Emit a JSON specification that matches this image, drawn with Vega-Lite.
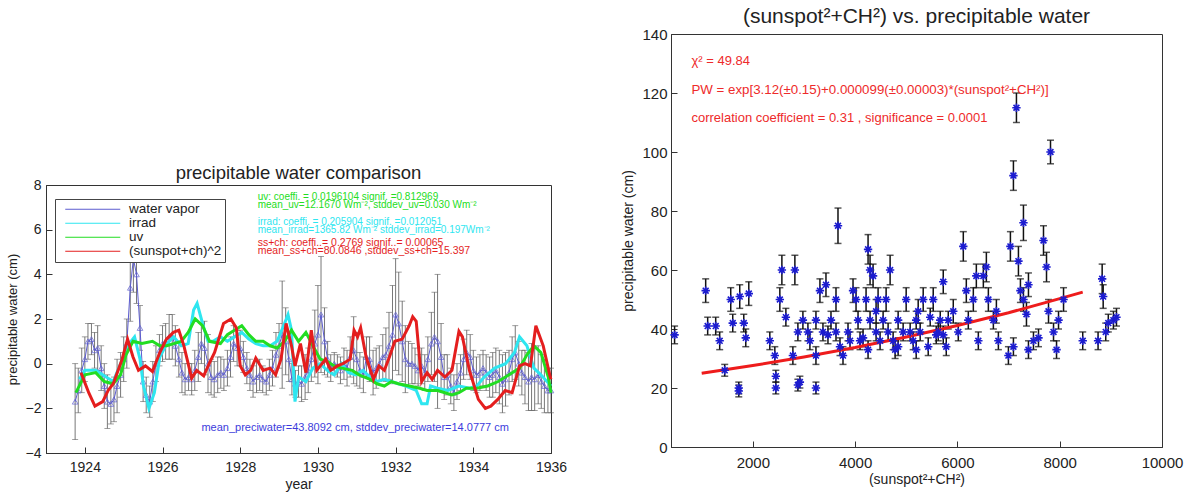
{
"$schema": "https://vega.github.io/schema/vega-lite/v6.json",
"padding": {"left": 5, "top": 5, "right": 0, "bottom": 0},
"background": "white",
"config": {
 "font": "Liberation Sans",
 "view": {"stroke": "#333", "strokeWidth": 1},
 "axis": {"domainColor": "#333", "tickColor": "#333", "labelColor": "#222", "titleColor": "#222", "grid": false, "titleFontWeight": "normal", "labelFont": "Liberation Sans", "titleFont": "Liberation Sans"},
 "title": {"fontWeight": "normal", "font": "Liberation Sans", "color": "#222"}
},
"resolve": {"scale": {"color": "independent"}, "legend": {"color": "independent"}},
"datasets": {
 "lines": [
  {"series":"water vapor","year":1923.75,"v":-1.7,"err":1.7},{"series":"water vapor","year":1923.83,"v":-1.2,"err":1.0},{"series":"water vapor","year":1923.92,"v":-0.3,"err":1.0},{"series":"water vapor","year":1924.0,"v":0.2,"err":1.0},
  {"series":"water vapor","year":1924.08,"v":1.0,"err":0.8},{"series":"water vapor","year":1924.17,"v":1.1,"err":0.7},{"series":"water vapor","year":1924.25,"v":0.6,"err":0.8},{"series":"water vapor","year":1924.33,"v":0.7,"err":1.0},
  {"series":"water vapor","year":1924.42,"v":-0.2,"err":1.0},{"series":"water vapor","year":1924.5,"v":-1.0,"err":1.0},{"series":"water vapor","year":1924.58,"v":-1.7,"err":1.2},{"series":"water vapor","year":1924.67,"v":-1.8,"err":0.9},
  {"series":"water vapor","year":1924.75,"v":-1.6,"err":1.0},{"series":"water vapor","year":1924.83,"v":-1.0,"err":1.2},{"series":"water vapor","year":1924.92,"v":-0.5,"err":1.0},{"series":"water vapor","year":1925.0,"v":0.2,"err":1.0},
  {"series":"water vapor","year":1925.08,"v":0.9,"err":1.1},{"series":"water vapor","year":1925.17,"v":3.4,"err":1.5},{"series":"water vapor","year":1925.25,"v":4.7,"err":1.5},{"series":"water vapor","year":1925.33,"v":4.0,"err":1.3},
  {"series":"water vapor","year":1925.42,"v":1.6,"err":1.0},{"series":"water vapor","year":1925.5,"v":-0.8,"err":0.9},{"series":"water vapor","year":1925.58,"v":-1.4,"err":0.8},{"series":"water vapor","year":1925.67,"v":-1.7,"err":0.7},
  {"series":"water vapor","year":1925.75,"v":-0.8,"err":0.9},{"series":"water vapor","year":1925.83,"v":0.0,"err":0.8},{"series":"water vapor","year":1925.92,"v":0.6,"err":0.7},{"series":"water vapor","year":1926.0,"v":0.9,"err":0.8},
  {"series":"water vapor","year":1926.08,"v":1.0,"err":0.8},{"series":"water vapor","year":1926.17,"v":1.2,"err":1.0},{"series":"water vapor","year":1926.25,"v":1.2,"err":1.0},{"series":"water vapor","year":1926.33,"v":0.8,"err":0.9},
  {"series":"water vapor","year":1926.42,"v":0.2,"err":0.8},{"series":"water vapor","year":1926.5,"v":-0.4,"err":0.9},{"series":"water vapor","year":1926.58,"v":-0.7,"err":0.7},{"series":"water vapor","year":1926.67,"v":-0.6,"err":0.6},
  {"series":"water vapor","year":1926.75,"v":-0.7,"err":0.7},{"series":"water vapor","year":1926.83,"v":-0.3,"err":0.9},{"series":"water vapor","year":1926.92,"v":0.3,"err":1.1},{"series":"water vapor","year":1927.0,"v":0.9,"err":0.9},
  {"series":"water vapor","year":1927.08,"v":0.7,"err":1.2},{"series":"water vapor","year":1927.17,"v":0.0,"err":1.3},{"series":"water vapor","year":1927.25,"v":-0.6,"err":0.8},{"series":"water vapor","year":1927.33,"v":-0.7,"err":0.8},
  {"series":"water vapor","year":1927.42,"v":-0.5,"err":0.8},{"series":"water vapor","year":1927.5,"v":-0.4,"err":0.7},{"series":"water vapor","year":1927.58,"v":-0.5,"err":0.7},{"series":"water vapor","year":1927.67,"v":-0.2,"err":0.8},
  {"series":"water vapor","year":1927.75,"v":0.3,"err":0.9},{"series":"water vapor","year":1927.83,"v":0.9,"err":0.8},{"series":"water vapor","year":1927.92,"v":0.7,"err":0.8},{"series":"water vapor","year":1928.0,"v":0.7,"err":0.8},
  {"series":"water vapor","year":1928.08,"v":0.3,"err":0.7},{"series":"water vapor","year":1928.17,"v":-0.2,"err":0.7},{"series":"water vapor","year":1928.25,"v":-0.5,"err":0.7},{"series":"water vapor","year":1928.33,"v":-0.8,"err":0.7},
  {"series":"water vapor","year":1928.42,"v":-0.6,"err":0.7},{"series":"water vapor","year":1928.5,"v":-0.5,"err":0.7},{"series":"water vapor","year":1928.58,"v":-0.7,"err":0.6},{"series":"water vapor","year":1928.67,"v":-0.8,"err":0.6},
  {"series":"water vapor","year":1928.75,"v":-0.5,"err":0.7},{"series":"water vapor","year":1928.83,"v":-0.2,"err":0.8},{"series":"water vapor","year":1928.92,"v":0.4,"err":1.0},{"series":"water vapor","year":1929.0,"v":0.8,"err":1.0},
  {"series":"water vapor","year":1929.08,"v":1.3,"err":2.4},{"series":"water vapor","year":1929.17,"v":1.0,"err":1.5},{"series":"water vapor","year":1929.25,"v":0.2,"err":1.0},{"series":"water vapor","year":1929.33,"v":-0.7,"err":0.7},
  {"series":"water vapor","year":1929.42,"v":-0.9,"err":0.6},{"series":"water vapor","year":1929.5,"v":-0.8,"err":0.7},{"series":"water vapor","year":1929.58,"v":-0.9,"err":0.8},{"series":"water vapor","year":1929.67,"v":-0.6,"err":1.0},
  {"series":"water vapor","year":1929.75,"v":-0.3,"err":1.0},{"series":"water vapor","year":1929.83,"v":0.2,"err":1.0},{"series":"water vapor","year":1929.92,"v":0.9,"err":1.5},{"series":"water vapor","year":1930.0,"v":1.3,"err":2.2},
  {"series":"water vapor","year":1930.08,"v":2.2,"err":2.6},{"series":"water vapor","year":1930.17,"v":1.0,"err":1.5},{"series":"water vapor","year":1930.25,"v":0.2,"err":0.8},{"series":"water vapor","year":1930.33,"v":-0.2,"err":0.6},
  {"series":"water vapor","year":1930.42,"v":0.0,"err":0.5},{"series":"water vapor","year":1930.5,"v":-0.1,"err":0.5},{"series":"water vapor","year":1930.58,"v":-0.3,"err":0.6},{"series":"water vapor","year":1930.67,"v":0.0,"err":0.7},
  {"series":"water vapor","year":1930.75,"v":-0.2,"err":0.8},{"series":"water vapor","year":1930.83,"v":0.3,"err":0.9},{"series":"water vapor","year":1930.92,"v":0.6,"err":1.5},{"series":"water vapor","year":1931.0,"v":0.2,"err":1.2},
  {"series":"water vapor","year":1931.08,"v":-0.3,"err":0.8},{"series":"water vapor","year":1931.17,"v":-0.5,"err":0.8},{"series":"water vapor","year":1931.25,"v":0.3,"err":0.9},{"series":"water vapor","year":1931.33,"v":0.2,"err":1.0},
  {"series":"water vapor","year":1931.42,"v":-0.4,"err":1.0},{"series":"water vapor","year":1931.5,"v":-0.2,"err":0.9},{"series":"water vapor","year":1931.58,"v":0.0,"err":0.8},{"series":"water vapor","year":1931.67,"v":0.3,"err":1.0},
  {"series":"water vapor","year":1931.75,"v":0.4,"err":1.2},{"series":"water vapor","year":1931.83,"v":0.8,"err":1.5},{"series":"water vapor","year":1931.92,"v":1.3,"err":2.2},{"series":"water vapor","year":1932.0,"v":2.2,"err":2.5},
  {"series":"water vapor","year":1932.08,"v":1.8,"err":2.3},{"series":"water vapor","year":1932.17,"v":1.0,"err":1.8},{"series":"water vapor","year":1932.25,"v":0.2,"err":1.5},{"series":"water vapor","year":1932.33,"v":0.0,"err":1.0},
  {"series":"water vapor","year":1932.42,"v":0.0,"err":0.9},{"series":"water vapor","year":1932.5,"v":-0.1,"err":0.8},{"series":"water vapor","year":1932.58,"v":-0.3,"err":0.7},{"series":"water vapor","year":1932.67,"v":-0.1,"err":0.8},
  {"series":"water vapor","year":1932.75,"v":-0.4,"err":0.8},{"series":"water vapor","year":1932.83,"v":0.2,"err":1.0},{"series":"water vapor","year":1932.92,"v":0.9,"err":1.4},{"series":"water vapor","year":1933.0,"v":1.2,"err":2.0},
  {"series":"water vapor","year":1933.08,"v":1.0,"err":3.0},{"series":"water vapor","year":1933.17,"v":0.3,"err":1.5},{"series":"water vapor","year":1933.25,"v":-0.6,"err":1.0},{"series":"water vapor","year":1933.33,"v":-0.5,"err":0.9},
  {"series":"water vapor","year":1933.42,"v":-1.0,"err":0.8},{"series":"water vapor","year":1933.5,"v":-1.3,"err":0.8},{"series":"water vapor","year":1933.58,"v":-0.8,"err":0.8},{"series":"water vapor","year":1933.67,"v":-0.4,"err":0.8},
  {"series":"water vapor","year":1933.75,"v":0.2,"err":0.9},{"series":"water vapor","year":1933.83,"v":0.5,"err":1.0},{"series":"water vapor","year":1933.92,"v":0.3,"err":1.0},{"series":"water vapor","year":1934.0,"v":-0.3,"err":0.9},
  {"series":"water vapor","year":1934.08,"v":-0.5,"err":0.8},{"series":"water vapor","year":1934.17,"v":-0.4,"err":0.8},{"series":"water vapor","year":1934.25,"v":-0.2,"err":0.8},{"series":"water vapor","year":1934.33,"v":-0.4,"err":0.8},
  {"series":"water vapor","year":1934.42,"v":-0.6,"err":0.9},{"series":"water vapor","year":1934.5,"v":-0.5,"err":1.0},{"series":"water vapor","year":1934.58,"v":-0.3,"err":1.0},{"series":"water vapor","year":1934.67,"v":-0.6,"err":1.2},
  {"series":"water vapor","year":1934.75,"v":-0.9,"err":1.3},{"series":"water vapor","year":1934.83,"v":-0.7,"err":1.2},{"series":"water vapor","year":1934.92,"v":-0.4,"err":1.0},{"series":"water vapor","year":1935.0,"v":0.2,"err":1.0},
  {"series":"water vapor","year":1935.08,"v":0.5,"err":1.2},{"series":"water vapor","year":1935.17,"v":0.0,"err":1.0},{"series":"water vapor","year":1935.25,"v":-0.4,"err":1.0},{"series":"water vapor","year":1935.33,"v":-0.6,"err":1.2},
  {"series":"water vapor","year":1935.42,"v":-0.8,"err":1.3},{"series":"water vapor","year":1935.5,"v":-0.6,"err":1.5},{"series":"water vapor","year":1935.58,"v":-0.7,"err":1.4},{"series":"water vapor","year":1935.67,"v":-0.5,"err":1.3},
  {"series":"water vapor","year":1935.75,"v":-0.8,"err":1.2},{"series":"water vapor","year":1935.83,"v":-1.0,"err":1.2},{"series":"water vapor","year":1935.92,"v":-1.2,"err":1.0},{"series":"water vapor","year":1936.0,"v":-1.2,"err":1.0},

  {"series":"irrad","year":1923.86,"v":-0.7},{"series":"irrad","year":1924.0,"v":-0.3},{"series":"irrad","year":1924.28,"v":-0.3},{"series":"irrad","year":1924.46,"v":-0.5},
  {"series":"irrad","year":1924.73,"v":-0.8},{"series":"irrad","year":1924.92,"v":0.0},{"series":"irrad","year":1925.1,"v":0.8},{"series":"irrad","year":1925.28,"v":1.2},
  {"series":"irrad","year":1925.42,"v":0.2},{"series":"irrad","year":1925.51,"v":-1.0},{"series":"irrad","year":1925.65,"v":-2.0},{"series":"irrad","year":1925.79,"v":-1.3},
  {"series":"irrad","year":1925.93,"v":0.3},{"series":"irrad","year":1926.11,"v":0.9},{"series":"irrad","year":1926.29,"v":1.2},{"series":"irrad","year":1926.48,"v":0.8},
  {"series":"irrad","year":1926.66,"v":0.9},{"series":"irrad","year":1926.8,"v":2.4},{"series":"irrad","year":1926.89,"v":2.7},{"series":"irrad","year":1927.03,"v":1.8},
  {"series":"irrad","year":1927.17,"v":1.0},{"series":"irrad","year":1927.3,"v":1.0},{"series":"irrad","year":1927.49,"v":1.2},{"series":"irrad","year":1927.67,"v":1.0},
  {"series":"irrad","year":1927.85,"v":1.2},{"series":"irrad","year":1928.04,"v":1.4},{"series":"irrad","year":1928.22,"v":1.1},{"series":"irrad","year":1928.4,"v":0.9},
  {"series":"irrad","year":1928.59,"v":0.8},{"series":"irrad","year":1928.77,"v":0.8},{"series":"irrad","year":1928.95,"v":1.0},{"series":"irrad","year":1929.14,"v":1.8},
  {"series":"irrad","year":1929.23,"v":2.2},{"series":"irrad","year":1929.32,"v":1.5},{"series":"irrad","year":1929.41,"v":-1.7},{"series":"irrad","year":1929.5,"v":-0.6},
  {"series":"irrad","year":1929.69,"v":-0.8},{"series":"irrad","year":1929.87,"v":-0.2},{"series":"irrad","year":1930.06,"v":0.0},{"series":"irrad","year":1930.24,"v":-0.3},
  {"series":"irrad","year":1930.42,"v":-0.5},{"series":"irrad","year":1930.61,"v":0.0},{"series":"irrad","year":1930.79,"v":-0.4},{"series":"irrad","year":1930.97,"v":-0.5},
  {"series":"irrad","year":1931.16,"v":-0.3},{"series":"irrad","year":1931.34,"v":-0.6},{"series":"irrad","year":1931.52,"v":-0.8},{"series":"irrad","year":1931.71,"v":-0.7},
  {"series":"irrad","year":1931.89,"v":-0.8},{"series":"irrad","year":1932.07,"v":-0.9},{"series":"irrad","year":1932.26,"v":-1.0},{"series":"irrad","year":1932.53,"v":-1.2},
  {"series":"irrad","year":1932.67,"v":-1.8},{"series":"irrad","year":1932.81,"v":-1.8},{"series":"irrad","year":1932.9,"v":-1.0},{"series":"irrad","year":1933.08,"v":-1.1},
  {"series":"irrad","year":1933.35,"v":-1.2},{"series":"irrad","year":1933.63,"v":-1.0},{"series":"irrad","year":1933.91,"v":-1.1},{"series":"irrad","year":1934.09,"v":-1.0},
  {"series":"irrad","year":1934.28,"v":-0.6},{"series":"irrad","year":1934.55,"v":-0.2},{"series":"irrad","year":1934.83,"v":0.0},{"series":"irrad","year":1935.06,"v":0.5},
  {"series":"irrad","year":1935.19,"v":1.2},{"series":"irrad","year":1935.38,"v":0.8},{"series":"irrad","year":1935.56,"v":-0.2},{"series":"irrad","year":1935.74,"v":-0.5},
  {"series":"irrad","year":1936.0,"v":-1.0},

  {"series":"uv","year":1923.77,"v":-1.3},{"series":"uv","year":1924.0,"v":-0.5},{"series":"uv","year":1924.28,"v":-0.4},{"series":"uv","year":1924.5,"v":-0.8},
  {"series":"uv","year":1924.73,"v":-0.9},{"series":"uv","year":1924.92,"v":-0.5},{"series":"uv","year":1925.06,"v":0.4},{"series":"uv","year":1925.24,"v":1.0},
  {"series":"uv","year":1925.47,"v":0.9},{"series":"uv","year":1925.74,"v":1.0},{"series":"uv","year":1925.93,"v":0.8},{"series":"uv","year":1926.11,"v":0.8},
  {"series":"uv","year":1926.29,"v":0.9},{"series":"uv","year":1926.48,"v":1.0},{"series":"uv","year":1926.66,"v":1.4},{"series":"uv","year":1926.84,"v":2.0},
  {"series":"uv","year":1927.03,"v":1.7},{"series":"uv","year":1927.21,"v":1.0},{"series":"uv","year":1927.49,"v":0.9},{"series":"uv","year":1927.67,"v":1.3},
  {"series":"uv","year":1927.85,"v":1.5},{"series":"uv","year":1928.04,"v":1.7},{"series":"uv","year":1928.22,"v":1.3},{"series":"uv","year":1928.4,"v":1.0},
  {"series":"uv","year":1928.59,"v":1.0},{"series":"uv","year":1928.77,"v":0.8},{"series":"uv","year":1928.95,"v":0.7},{"series":"uv","year":1929.14,"v":1.0},
  {"series":"uv","year":1929.32,"v":1.5},{"series":"uv","year":1929.5,"v":1.0},{"series":"uv","year":1929.69,"v":1.4},{"series":"uv","year":1929.87,"v":0.8},
  {"series":"uv","year":1930.06,"v":0.2},{"series":"uv","year":1930.24,"v":0.1},{"series":"uv","year":1930.42,"v":-0.1},{"series":"uv","year":1930.61,"v":-0.2},
  {"series":"uv","year":1930.88,"v":-0.3},{"series":"uv","year":1931.06,"v":-0.5},{"series":"uv","year":1931.34,"v":-0.7},{"series":"uv","year":1931.52,"v":-0.9},
  {"series":"uv","year":1931.71,"v":-1.0},{"series":"uv","year":1931.89,"v":-0.8},{"series":"uv","year":1932.07,"v":-0.9},{"series":"uv","year":1932.35,"v":-1.0},
  {"series":"uv","year":1932.62,"v":-1.1},{"series":"uv","year":1932.81,"v":-1.2},{"series":"uv","year":1933.08,"v":-1.2},{"series":"uv","year":1933.27,"v":-1.3},
  {"series":"uv","year":1933.45,"v":-1.4},{"series":"uv","year":1933.63,"v":-1.3},{"series":"uv","year":1933.82,"v":-1.1},{"series":"uv","year":1934.09,"v":-1.1},
  {"series":"uv","year":1934.37,"v":-1.0},{"series":"uv","year":1934.64,"v":-0.8},{"series":"uv","year":1934.92,"v":-0.5},{"series":"uv","year":1935.19,"v":-0.2},
  {"series":"uv","year":1935.38,"v":0.4},{"series":"uv","year":1935.56,"v":0.8},{"series":"uv","year":1935.74,"v":0.5},{"series":"uv","year":1935.93,"v":-0.6},
  {"series":"uv","year":1936.0,"v":-1.3},

  {"series":"(sunspot+ch)^2","year":1923.9,"v":-0.4},{"series":"(sunspot+ch)^2","year":1924.1,"v":-1.3},{"series":"(sunspot+ch)^2","year":1924.26,"v":-1.9},{"series":"(sunspot+ch)^2","year":1924.46,"v":-1.7},
  {"series":"(sunspot+ch)^2","year":1924.6,"v":-1.2},{"series":"(sunspot+ch)^2","year":1924.73,"v":-0.9},{"series":"(sunspot+ch)^2","year":1924.96,"v":0.2},{"series":"(sunspot+ch)^2","year":1925.1,"v":1.1},
  {"series":"(sunspot+ch)^2","year":1925.24,"v":0.3},{"series":"(sunspot+ch)^2","year":1925.38,"v":-0.3},{"series":"(sunspot+ch)^2","year":1925.56,"v":-0.1},{"series":"(sunspot+ch)^2","year":1925.74,"v":-0.35},
  {"series":"(sunspot+ch)^2","year":1925.93,"v":0.5},{"series":"(sunspot+ch)^2","year":1926.1,"v":1.1},{"series":"(sunspot+ch)^2","year":1926.28,"v":1.4},{"series":"(sunspot+ch)^2","year":1926.42,"v":1.5},
  {"series":"(sunspot+ch)^2","year":1926.55,"v":0.8},{"series":"(sunspot+ch)^2","year":1926.75,"v":-0.65},{"series":"(sunspot+ch)^2","year":1926.88,"v":-0.3},{"series":"(sunspot+ch)^2","year":1927.06,"v":-0.55},
  {"series":"(sunspot+ch)^2","year":1927.2,"v":0.0},{"series":"(sunspot+ch)^2","year":1927.34,"v":0.5},{"series":"(sunspot+ch)^2","year":1927.57,"v":1.8},{"series":"(sunspot+ch)^2","year":1927.76,"v":2.0},
  {"series":"(sunspot+ch)^2","year":1927.9,"v":1.6},{"series":"(sunspot+ch)^2","year":1928.0,"v":-0.1},{"series":"(sunspot+ch)^2","year":1928.13,"v":-0.5},{"series":"(sunspot+ch)^2","year":1928.27,"v":-0.3},
  {"series":"(sunspot+ch)^2","year":1928.4,"v":0.25},{"series":"(sunspot+ch)^2","year":1928.59,"v":-0.3},{"series":"(sunspot+ch)^2","year":1928.77,"v":-0.2},{"series":"(sunspot+ch)^2","year":1928.91,"v":-0.5},
  {"series":"(sunspot+ch)^2","year":1929.05,"v":0.2},{"series":"(sunspot+ch)^2","year":1929.18,"v":1.8},{"series":"(sunspot+ch)^2","year":1929.32,"v":0.8},{"series":"(sunspot+ch)^2","year":1929.41,"v":-0.1},
  {"series":"(sunspot+ch)^2","year":1929.55,"v":0.9},{"series":"(sunspot+ch)^2","year":1929.69,"v":-0.4},{"series":"(sunspot+ch)^2","year":1929.83,"v":1.5},{"series":"(sunspot+ch)^2","year":1929.97,"v":-0.3},
  {"series":"(sunspot+ch)^2","year":1930.06,"v":-0.1},{"series":"(sunspot+ch)^2","year":1930.2,"v":0.2},{"series":"(sunspot+ch)^2","year":1930.33,"v":-0.3},{"series":"(sunspot+ch)^2","year":1930.5,"v":-0.1},
  {"series":"(sunspot+ch)^2","year":1930.64,"v":0.0},{"series":"(sunspot+ch)^2","year":1930.83,"v":0.2},{"series":"(sunspot+ch)^2","year":1930.93,"v":1.5},{"series":"(sunspot+ch)^2","year":1931.02,"v":1.2},
  {"series":"(sunspot+ch)^2","year":1931.1,"v":1.6},{"series":"(sunspot+ch)^2","year":1931.24,"v":0.3},{"series":"(sunspot+ch)^2","year":1931.43,"v":-0.7},{"series":"(sunspot+ch)^2","year":1931.57,"v":-0.1},
  {"series":"(sunspot+ch)^2","year":1931.71,"v":-0.3},{"series":"(sunspot+ch)^2","year":1931.84,"v":0.3},{"series":"(sunspot+ch)^2","year":1931.98,"v":1.0},{"series":"(sunspot+ch)^2","year":1932.17,"v":1.1},
  {"series":"(sunspot+ch)^2","year":1932.35,"v":1.7},{"series":"(sunspot+ch)^2","year":1932.44,"v":2.1},{"series":"(sunspot+ch)^2","year":1932.53,"v":1.9},{"series":"(sunspot+ch)^2","year":1932.67,"v":-0.8},
  {"series":"(sunspot+ch)^2","year":1932.81,"v":-0.4},{"series":"(sunspot+ch)^2","year":1932.94,"v":-0.7},{"series":"(sunspot+ch)^2","year":1933.08,"v":-0.3},{"series":"(sunspot+ch)^2","year":1933.27,"v":-0.6},
  {"series":"(sunspot+ch)^2","year":1933.45,"v":-0.3},{"series":"(sunspot+ch)^2","year":1933.63,"v":1.45},{"series":"(sunspot+ch)^2","year":1933.72,"v":1.2},{"series":"(sunspot+ch)^2","year":1933.9,"v":-0.3},
  {"series":"(sunspot+ch)^2","year":1934.13,"v":-1.6},{"series":"(sunspot+ch)^2","year":1934.31,"v":-2.0},{"series":"(sunspot+ch)^2","year":1934.45,"v":-1.9},{"series":"(sunspot+ch)^2","year":1934.63,"v":-1.6},
  {"series":"(sunspot+ch)^2","year":1934.82,"v":-1.2},{"series":"(sunspot+ch)^2","year":1935.0,"v":-1.3},{"series":"(sunspot+ch)^2","year":1935.19,"v":-0.1},{"series":"(sunspot+ch)^2","year":1935.33,"v":0.0},
  {"series":"(sunspot+ch)^2","year":1935.47,"v":-0.1},{"series":"(sunspot+ch)^2","year":1935.61,"v":1.7},{"series":"(sunspot+ch)^2","year":1935.8,"v":0.8},{"series":"(sunspot+ch)^2","year":1935.98,"v":-0.6},
  {"series":"(sunspot+ch)^2","year":1936.0,"v":-0.7}
 ],
 "scatter": [
  {"s":470,"pw":38,"err":3},{"s":1078,"pw":53,"err":4},{"s":1117,"pw":41,"err":3},{"s":1274,"pw":41,"err":3},{"s":1352,"pw":36,"err":3},{"s":1450,"pw":26,"err":2},{"s":1568,"pw":50,"err":4},{"s":1607,"pw":42,"err":3},
  {"s":1744,"pw":51,"err":4},{"s":1725,"pw":20,"err":2},{"s":1725,"pw":19,"err":2},{"s":1823,"pw":42,"err":3},{"s":1862,"pw":37,"err":3},{"s":1921,"pw":52,"err":4},{"s":2332,"pw":36,"err":3},{"s":2430,"pw":31,"err":3},
  {"s":2450,"pw":24,"err":2},{"s":2450,"pw":20,"err":2},{"s":2528,"pw":50,"err":4},{"s":2568,"pw":60,"err":5},{"s":2646,"pw":44,"err":3},{"s":2783,"pw":31,"err":3},{"s":2822,"pw":60,"err":5},{"s":2881,"pw":39,"err":3},
  {"s":2881,"pw":21,"err":2},{"s":2920,"pw":22,"err":2},{"s":2979,"pw":43,"err":3},{"s":3077,"pw":39,"err":3},{"s":3116,"pw":36,"err":3},{"s":3234,"pw":20,"err":2},{"s":3234,"pw":31,"err":3},{"s":3234,"pw":43,"err":3},
  {"s":3312,"pw":53,"err":4},{"s":3371,"pw":39,"err":3},{"s":3430,"pw":55,"err":4},{"s":3469,"pw":38,"err":3},{"s":3528,"pw":43,"err":3},{"s":3626,"pw":39,"err":3},{"s":3665,"pw":75,"err":6},{"s":3626,"pw":50,"err":4},
  {"s":3704,"pw":34,"err":3},{"s":3763,"pw":31,"err":3},{"s":3861,"pw":39,"err":3},{"s":3900,"pw":36,"err":3},{"s":3959,"pw":53,"err":4},{"s":4018,"pw":50,"err":4},{"s":4057,"pw":43,"err":3},{"s":4096,"pw":36,"err":3},
  {"s":4155,"pw":37,"err":3},{"s":4214,"pw":50,"err":4},{"s":4253,"pw":33,"err":3},{"s":4253,"pw":67,"err":5},{"s":4292,"pw":60,"err":5},{"s":4351,"pw":58,"err":4},{"s":4292,"pw":43,"err":3},{"s":4410,"pw":46,"err":4},
  {"s":4410,"pw":39,"err":3},{"s":4449,"pw":50,"err":4},{"s":4488,"pw":36,"err":3},{"s":4547,"pw":43,"err":3},{"s":4606,"pw":50,"err":4},{"s":4645,"pw":39,"err":3},{"s":4684,"pw":60,"err":5},{"s":4743,"pw":36,"err":3},
  {"s":4782,"pw":33,"err":3},{"s":4841,"pw":43,"err":3},{"s":4841,"pw":34,"err":3},{"s":4939,"pw":39,"err":3},{"s":4998,"pw":50,"err":4},{"s":5076,"pw":39,"err":3},{"s":5135,"pw":36,"err":3},{"s":5194,"pw":43,"err":3},
  {"s":5194,"pw":33,"err":3},{"s":5233,"pw":46,"err":4},{"s":5272,"pw":39,"err":3},{"s":5331,"pw":50,"err":4},{"s":5429,"pw":34,"err":3},{"s":5468,"pw":44,"err":3},{"s":5527,"pw":50,"err":4},{"s":5586,"pw":38,"err":3},
  {"s":5625,"pw":39,"err":3},{"s":5664,"pw":43,"err":3},{"s":5723,"pw":38,"err":3},{"s":5723,"pw":56,"err":4},{"s":5782,"pw":34,"err":3},{"s":5821,"pw":43,"err":3},{"s":5919,"pw":46,"err":4},{"s":6017,"pw":39,"err":3},
  {"s":6115,"pw":68,"err":5},{"s":6174,"pw":53,"err":4},{"s":6213,"pw":43,"err":3},{"s":6311,"pw":50,"err":4},{"s":6370,"pw":58,"err":4},{"s":6409,"pw":36,"err":3},{"s":6507,"pw":58,"err":4},{"s":6566,"pw":61,"err":5},
  {"s":6605,"pw":50,"err":4},{"s":6703,"pw":43,"err":3},{"s":6762,"pw":46,"err":4},{"s":6801,"pw":36,"err":3},{"s":6997,"pw":31,"err":3},{"s":7095,"pw":34,"err":3},{"s":7036,"pw":68,"err":5},{"s":7095,"pw":92,"err":5},
  {"s":7154,"pw":115,"err":5},{"s":7193,"pw":63,"err":5},{"s":7232,"pw":53,"err":4},{"s":7291,"pw":50,"err":4},{"s":7291,"pw":76,"err":6},{"s":7350,"pw":45,"err":4},{"s":7389,"pw":33,"err":3},{"s":7389,"pw":55,"err":4},
  {"s":7487,"pw":36,"err":3},{"s":7585,"pw":37,"err":3},{"s":7683,"pw":70,"err":5},{"s":7742,"pw":61,"err":5},{"s":7781,"pw":46,"err":4},{"s":7820,"pw":100,"err":4},{"s":7879,"pw":39,"err":3},{"s":7938,"pw":33,"err":3},
  {"s":7977,"pw":43,"err":3},{"s":8075,"pw":50,"err":4},{"s":8450,"pw":36,"err":3},{"s":8750,"pw":36,"err":3},{"s":8830,"pw":57,"err":5},{"s":8850,"pw":51,"err":4},{"s":8900,"pw":39,"err":3},{"s":8950,"pw":42,"err":3},
  {"s":9050,"pw":43,"err":3},{"s":9110,"pw":44,"err":3}
 ],
 "fit": [
  {"s":1000,"pw":25.0},{"s":2000,"pw":27.6},{"s":3000,"pw":30.5},{"s":4000,"pw":33.7},{"s":5000,"pw":37.3},{"s":6000,"pw":41.2},{"s":7000,"pw":45.5},{"s":8000,"pw":50.3},{"s":8450,"pw":52.5}
 ]
},
"hconcat": [
 {
  "spacing": 0,
  "resolve": {"scale": {"color": "independent"}, "legend": {"color": "independent"}},
  "vconcat": [
   {"width": 505, "height": 129, "view": {"stroke": null}, "data": {"values": [{}]}, "mark": {"type": "text"}, "encoding": {"text": {"value": ""}}},
   {
    "width": 505, "height": 268,
    "title": {"text": "precipitable water comparison", "fontSize": 18.5, "offset": -4},
    "data": {"name": "lines"},
    "layer": [
     {"transform": [{"filter": "datum.series === 'water vapor'"}],
      "mark": {"type": "errorbar", "ticks": {"size": 6}, "color": "#555", "thickness": 0.8},
      "encoding": {
       "x": {"field": "year", "type": "quantitative"},
       "y": {"field": "v", "type": "quantitative", "scale": {"domain": [-4, 8], "nice": false, "zero": false},
        "axis": {"title": "precipitable water (cm)", "titleFontSize": 13, "labelFontSize": 14,
         "values": [-4,-3.5,-3,-2.5,-2,-1.5,-1,-0.5,0,0.5,1,1.5,2,2.5,3,3.5,4,4.5,5,5.5,6,6.5,7,7.5,8],
         "labelExpr": "datum.value % 2 === 0 ? datum.label : ''",
         "tickSize": -6, "labelPadding": 11, "titlePadding": 6}},
       "yError": {"field": "err"}
      }},
     {"transform": [{"filter": "datum.series === 'water vapor'"}],
      "mark": {"type": "line", "strokeWidth": 1},
      "encoding": {
       "x": {"field": "year", "type": "quantitative", "scale": {"domain": [1923, 1936], "nice": false, "zero": false},
        "axis": {"title": "year", "titleFontSize": 14, "labelFontSize": 14, "format": "d", "labelFlush": false,
         "values": [1924, 1926, 1928, 1930, 1932, 1934, 1936],
         "tickSize": -6, "labelPadding": 13, "titlePadding": 3}},
       "y": {"field": "v", "type": "quantitative"},
       "color": {"field": "series", "type": "nominal", "scale": {"domain": ["water vapor", "irrad", "uv", "(sunspot+ch)^2"], "range": ["#5c5cd0", "#2ee6f0", "#22dd22", "#e41e1e"]},
        "legend": {"title": null, "orient": "none", "legendX": 9, "legendY": 14, "strokeColor": "#444", "padding": 3.5, "symbolType": "M0,0L10,0", "symbolSize": 121, "symbolStrokeWidth": 1, "labelFontSize": 13.5, "labelColor": "#222", "rowPadding": -3, "labelOffset": 57, "fillColor": "white", "labelLimit": 300}},
       "order": {"field": "year"}}},
     {"transform": [{"filter": "datum.series === 'water vapor'"}],
      "mark": {"type": "point", "shape": "triangle-up", "filled": false, "size": 32, "strokeWidth": 1, "color": "#5c5cd0"},
      "encoding": {"x": {"field": "year", "type": "quantitative"}, "y": {"field": "v", "type": "quantitative"}}},
     {"transform": [{"filter": "datum.series !== 'water vapor'"}],
      "mark": {"type": "line", "strokeWidth": 3},
      "encoding": {"x": {"field": "year", "type": "quantitative"}, "y": {"field": "v", "type": "quantitative"},
       "color": {"field": "series", "type": "nominal"},
       "order": {"field": "year"}}},
     {"data": {"values": [{}]}, "mark": {"type": "text", "align": "left", "baseline": "middle", "fontSize": 10, "color": "#22dd22"},
      "encoding": {"x": {"datum": 1928.45}, "y": {"datum": 7.46}, "text": {"value": "uv: coeffi. = 0.0196104 signif. =0.812969"}}},
     {"data": {"values": [{}]}, "mark": {"type": "text", "align": "left", "baseline": "middle", "fontSize": 10, "color": "#22dd22"},
      "encoding": {"x": {"datum": 1928.45}, "y": {"datum": 7.1}, "text": {"value": "mean_uv=12.1670 Wm⁻², stddev_uv=0.030 Wm⁻²"}}},
     {"data": {"values": [{}]}, "mark": {"type": "text", "align": "left", "baseline": "middle", "fontSize": 10, "color": "#2ee6f0"},
      "encoding": {"x": {"datum": 1928.45}, "y": {"datum": 6.34}, "text": {"value": "irrad: coeffi. = 0.205904 signif. =0.012051"}}},
     {"data": {"values": [{}]}, "mark": {"type": "text", "align": "left", "baseline": "middle", "fontSize": 10, "color": "#2ee6f0"},
      "encoding": {"x": {"datum": 1928.45}, "y": {"datum": 5.98}, "text": {"value": "mean_irrad=1365.82 Wm⁻² stddev_irrad=0.197Wm⁻²"}}},
     {"data": {"values": [{}]}, "mark": {"type": "text", "align": "left", "baseline": "middle", "fontSize": 10.5, "color": "#e41e1e"},
      "encoding": {"x": {"datum": 1928.45}, "y": {"datum": 5.4}, "text": {"value": "ss+ch: coeffi..= 0.2769 signif..= 0.00065"}}},
     {"data": {"values": [{}]}, "mark": {"type": "text", "align": "left", "baseline": "middle", "fontSize": 10.5, "color": "#e41e1e"},
      "encoding": {"x": {"datum": 1928.45}, "y": {"datum": 5.04}, "text": {"value": "mean_ss+ch=80.0846 ,stddev_ss+ch=15.397"}}},
     {"data": {"values": [{}]}, "mark": {"type": "text", "align": "left", "baseline": "middle", "fontSize": 11, "color": "#3c3cdc"},
      "encoding": {"x": {"datum": 1927.0}, "y": {"datum": -2.88}, "text": {"value": "mean_preciwater=43.8092 cm, stddev_preciwater=14.0777 cm"}}}
    ]
   }
  ]
 },
 {
  "width": 491, "height": 413,
  "title": {"text": "(sunspot²+CH²) vs. precipitable water", "fontSize": 21, "offset": 0},
  "layer": [
   {"data": {"name": "scatter"}, "mark": {"type": "errorbar", "ticks": {"size": 7}, "color": "#111", "thickness": 1.5},
    "encoding": {
     "x": {"field": "s", "type": "quantitative"},
     "y": {"field": "pw", "type": "quantitative", "scale": {"domain": [0, 140], "nice": false, "zero": false},
      "axis": {"title": "precipitable water (cm)", "titleFontSize": 14, "labelFontSize": 15,
       "values": [0,5,10,15,20,25,30,35,40,45,50,55,60,65,70,75,80,85,90,95,100,105,110,115,120,125,130,135,140],
       "labelExpr": "datum.value % 20 === 0 ? datum.label : ''",
       "tickSize": -6, "labelPadding": 10, "titlePadding": 6}},
     "yError": {"field": "err"}
    }},
   {"data": {"name": "fit"}, "mark": {"type": "line", "color": "#ee1c1c", "strokeWidth": 3},
    "encoding": {
     "x": {"field": "s", "type": "quantitative", "scale": {"domain": [400, 10000], "nice": false, "zero": false},
      "axis": {"title": "(sunspot²+CH²)", "titleFontSize": 14, "labelFontSize": 15, "format": "d", "labelFlush": false,
       "values": [2000, 4000, 6000, 8000, 10000],
       "tickSize": -6, "labelPadding": 14, "titlePadding": 2}},
     "y": {"field": "pw", "type": "quantitative"}}},
   {"data": {"name": "scatter"}, "mark": {"type": "point", "shape": "M-1,0L1,0M0,-1L0,1M-0.7,-0.7L0.7,0.7M-0.7,0.7L0.7,-0.7", "filled": false, "size": 70, "strokeWidth": 1.6, "color": "#1c1cd0", "opacity": 1},
    "encoding": {"x": {"field": "s", "type": "quantitative"}, "y": {"field": "pw", "type": "quantitative"}}},
   {"data": {"values": [{}]}, "mark": {"type": "text", "align": "left", "baseline": "middle", "fontSize": 13, "color": "#ee2a2a"},
    "encoding": {"x": {"datum": 800}, "y": {"datum": 130.8}, "text": {"value": "χ² = 49.84"}}},
   {"data": {"values": [{}]}, "mark": {"type": "text", "align": "left", "baseline": "middle", "fontSize": 13.3, "color": "#ee2a2a"},
    "encoding": {"x": {"datum": 800}, "y": {"datum": 121}, "text": {"value": "PW = exp[3.12(±0.15)+0.000099(±0.00003)*(sunspot²+CH²)]"}}},
   {"data": {"values": [{}]}, "mark": {"type": "text", "align": "left", "baseline": "middle", "fontSize": 13, "color": "#ee2a2a"},
    "encoding": {"x": {"datum": 800}, "y": {"datum": 111.5}, "text": {"value": "correlation coefficient = 0.31 , significance = 0.0001"}}}
  ]
 }
],
"spacing": 53
}
